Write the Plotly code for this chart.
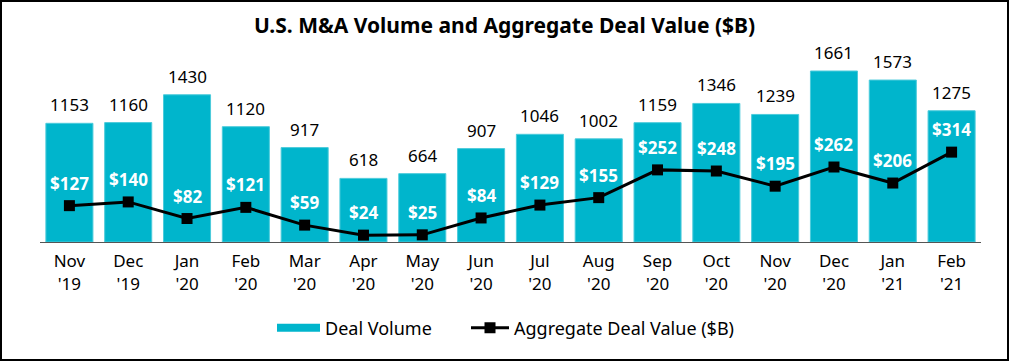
import plotly.graph_objects as go

months = ["Nov<br>'19", "Dec<br>'19", "Jan<br>'20", "Feb<br>'20", "Mar<br>'20", "Apr<br>'20",
          "May<br>'20", "Jun<br>'20", "Jul<br>'20", "Aug<br>'20", "Sep<br>'20", "Oct<br>'20",
          "Nov<br>'20", "Dec<br>'20", "Jan<br>'21", "Feb<br>'21"]
deal_volume = [1153, 1160, 1430, 1120, 917, 618, 664, 907, 1046, 1002, 1159, 1346, 1239, 1661, 1573, 1275]
deal_value = [127, 140, 82, 121, 59, 24, 25, 84, 129, 155, 252, 248, 195, 262, 206, 314]

W, H = 1009, 361
ML, MR, MT, MB = 40, 28, 60, 119
PW, PH = W - ML - MR, H - MT - MB

FONT = "Noto Sans"
CYAN = "#00B5CC"

fig = go.Figure()
fig.add_trace(go.Bar(x=months, y=deal_volume, name="Deal Volume", marker_color=CYAN,
                     marker_line=dict(width=1, color="#4CCBDB"), yaxis="y", showlegend=False))
# legend proxy for the bar series (wide swatch like the reference)
fig.add_trace(go.Scatter(x=[None], y=[None], name="Deal Volume", mode="lines",
                         line=dict(color=CYAN, width=8), legend="legend", yaxis="y"))
fig.add_trace(go.Scatter(x=months, y=deal_value, name="Aggregate Deal Value ($B)",
                         mode="lines+markers", line=dict(color="black", width=3),
                         marker=dict(symbol="square", size=11, color="black"), yaxis="y2",
                         legend="legend2"))

annotations = []
for m, v in zip(months, deal_volume):
    annotations.append(dict(x=m, y=v, xref="x", yref="y", text=str(v), showarrow=False,
                            yanchor="bottom", yshift=5, font=dict(family=FONT, size=17, color="black")))
for m, v in zip(months, deal_value):
    annotations.append(dict(x=m, y=v, xref="x", yref="y2", text=f"<b>${v}</b>", showarrow=False,
                            yanchor="bottom", yshift=9, font=dict(family=FONT, size=17, color="white")))

leg_common = dict(orientation="h", y=-(328 - 242) / PH, yanchor="middle", xanchor="left",
                  font=dict(family=FONT, size=18, color="black"), bgcolor="rgba(0,0,0,0)")

fig.update_layout(
    width=W, height=H,
    margin=dict(l=ML, r=MR, t=MT, b=MB),
    paper_bgcolor="white", plot_bgcolor="white",
    title=dict(text="<b>U.S. M&A Volume and Aggregate Deal Value ($B)</b>", x=0.5, xanchor="center",
               y=1 - 26 / H, yanchor="middle", font=dict(family=FONT, size=21, color="black")),
    bargap=0.2,
    showlegend=True,
    legend=dict(x=(272 - ML) / PW, itemwidth=43, **leg_common),
    legend2=dict(x=(466 - ML) / PW, itemwidth=38, **leg_common),
    xaxis=dict(showline=True, linecolor="#555555", linewidth=1, ticks="", showgrid=False,
               tickfont=dict(family=FONT, size=17, color="black"), range=[-0.5, 15.5],
               ticklabelstandoff=4),
    yaxis=dict(range=[0, PH / (171 / 1661)], visible=False, showgrid=False),
    yaxis2=dict(range=[0, PH / (83 / 290)], visible=False, showgrid=False, overlaying="y", side="right"),
    annotations=annotations,
    shapes=[dict(type="rect", xref="paper", yref="paper",
                 x0=-(ML - 1) / PW, x1=1 + (MR - 1) / PW,
                 y0=-(MB - 1) / PH, y1=1 + (MT - 1) / PH,
                 line=dict(color="black", width=2), layer="above")],
)

fig.write_html("out.html", config={"displayModeBar": False},
               post_script="document.body.style.margin='0';")
